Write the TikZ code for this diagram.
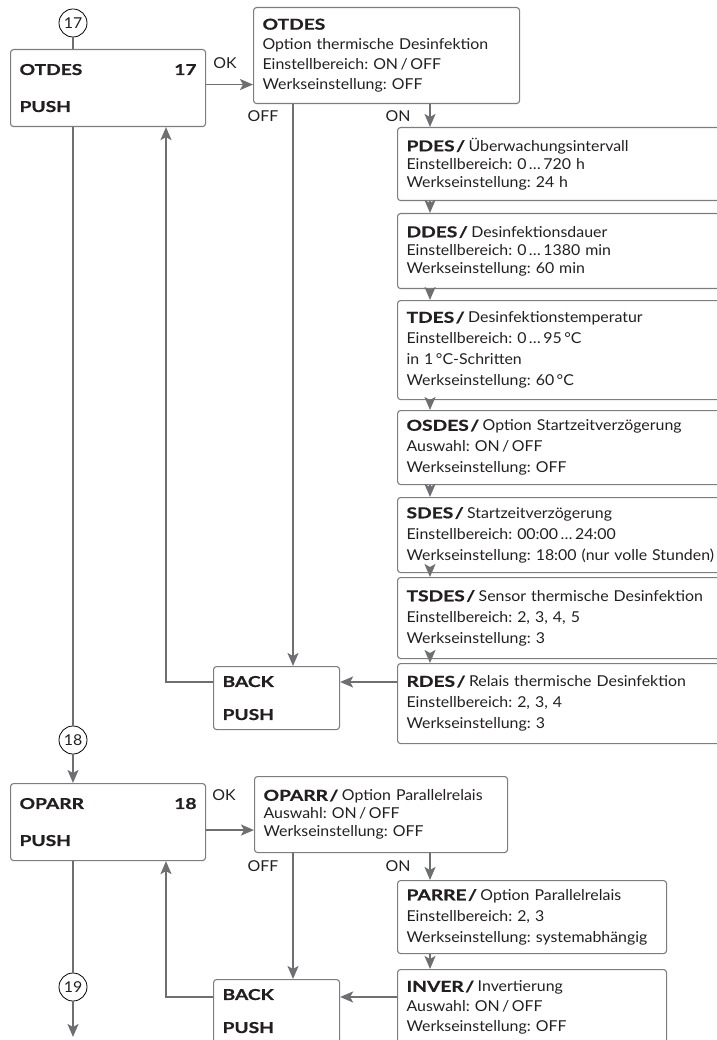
\documentclass[tikz,border=0pt]{standalone}
\usepackage{fontspec}
\setmainfont{Lato}[FakeStretch=1.06, BoldFeatures={FakeStretch=1.28, FakeBold=0.8}]
\usepackage{tikz}
\usetikzlibrary{arrows.meta,calc,positioning}
\definecolor{linegray}{RGB}{110,111,114}
\definecolor{boxgray}{RGB}{125,125,128}
\definecolor{textblack}{RGB}{35,31,32}
\frenchspacing
\newcommand{\parname}[1]{\textbf{#1\kern1.5pt/}\kern3.5pt}

\begin{document}
\begin{tikzpicture}[x=1pt, y=-1pt,
    every node/.style={font=\fontsize{15}{21}\selectfont, text=textblack},
    tight/.style={font=\fontsize{15}{18}\selectfont},
    menubox/.style={draw=boxgray, line width=1.1pt, rounded corners=3pt, anchor=north west,
                    minimum width=195pt, minimum height=77pt, text width=177pt, inner xsep=9pt, align=left},
    infobox/.style={draw=boxgray, line width=1.1pt, rounded corners=3pt, anchor=north west,
                    inner xsep=9pt, inner ysep=0pt, align=left},
    backbox/.style={draw=boxgray, line width=1.1pt, rounded corners=3pt, anchor=north west,
                    minimum width=126pt, minimum height=63pt, text width=108pt, inner xsep=9pt, align=left},
    stepnum/.style={draw=black, circle, line width=0.8pt, minimum size=28pt, inner sep=0pt},
    conn/.style={draw=linegray, line width=1.8pt},
    arr/.style={conn, -{Stealth[length=13pt,width=11pt,inset=3pt]}}]
                \useasboundingbox (0,0) rectangle (716,1040);
                % menu 17
                \node[stepnum] (c17) at (73,23) {17};
                \node[menubox] (m17) at (10,49) {\textbf{OTDES}\hskip0pt plus1filll\textbf{17}\\[16pt]\textbf{PUSH}};
                \node[infobox, font=\fontsize{15}{20}\selectfont, text width=248pt, minimum height=96pt] (d17) at (253,7)
                    {\textbf{OTDES}\\Option thermische Desinfektion\\Einstellbereich: ON\,/\,OFF\\Werkseinstellung: OFF};
                \node (ok17) at (225,63) {OK};
                \node (off17) at (263,116) {OFF};
                \node (on17) at (398,116) {ON};
                \node[infobox, tight, text width=320pt, minimum height=73pt] (pdes) at (397,127)
                    {\parname{PDES}Überwachungsintervall\\Einstellbereich: 0\,…\,720 h\\Werkseinstellung: 24 h};
                \node[infobox, tight, text width=320pt, minimum height=75pt] (ddes) at (397,213)
                    {\parname{DDES}Desinfektionsdauer\\Einstellbereich: 0\,…\,1380 min\\Werkseinstellung: 60 min};
                \node[infobox, text width=320pt, minimum height=99pt] (tdes) at (397,300)
                    {\parname{TDES}Desinfektionstemperatur\\Einstellbereich: 0\,…\,95\,°C\\in 1\,°C-Schritten\\Werkseinstellung: 60\,°C};
                \node[infobox, text width=320pt, minimum height=74pt] (osdes) at (397,410)
                    {\parname{OSDES}Option Startzeitverzögerung\\Auswahl: ON\,/\,OFF\\Werkseinstellung: OFF};
                \node[infobox, text width=320pt, minimum height=75pt] (sdes) at (397,497)
                    {\parname{SDES}Startzeitverzögerung\\Einstellbereich: 00:00\,…\,24:00\\Werkseinstellung: 18:00 (nur volle Stunden)};
                \node[infobox, text width=320pt, minimum height=81pt] (tsdes) at (397,577)
                    {\parname{TSDES}Sensor thermische Desinfektion\\Einstellbereich: 2, 3, 4, 5\\Werkseinstellung: 3};
                \node[infobox, text width=320pt, minimum height=80pt] (rdes) at (397,663)
                    {\parname{RDES}Relais thermische Desinfektion\\Einstellbereich: 2, 3, 4\\Werkseinstellung: 3};
                \node[backbox] (b17) at (213,666) {\textbf{BACK}\\[12pt]\textbf{PUSH}};
                % menu 18
                \node[stepnum] (c18) at (73,740) {18};
                \node[menubox] (m18) at (10,783) {\textbf{OPARR}\hskip0pt plus1filll\textbf{18}\\[16pt]\textbf{PUSH}};
                \node[infobox, tight, text width=235pt, minimum height=76pt] (d18) at (254,776)
                    {\parname{OPARR}Option Parallelrelais\\Auswahl: ON\,/\,OFF\\Werkseinstellung: OFF};
                \node (ok18) at (224,795) {OK};
                \node (off18) at (263,866) {OFF};
                \node (on18) at (398,866) {ON};
                \node[infobox, text width=251pt, minimum height=73pt] (parre) at (397,880)
                    {\parname{PARRE}Option Parallelrelais\\Einstellbereich: 2, 3\\Werkseinstellung: systemabhängig};
                \node[infobox, font=\fontsize{15}{20}\selectfont, text width=251pt, minimum height=76pt] (inver) at (397,969)
                    {\parname{INVER}Invertierung\\Auswahl: ON\,/\,OFF\\Werkseinstellung: OFF};
                \node[backbox] (b18) at (213,979) {\textbf{BACK}\\[12pt]\textbf{PUSH}};
                \node[stepnum] (c19) at (73,987) {19};
                \coordinate (end19) at (73,1037);
                % connectors 17
                \draw[conn] (c17.south) -- (c17.south |- m17.north);
                \draw[arr] ([yshift=3.5pt]m17.east) -- ([yshift=3.5pt]m17.east -| d17.west);
                \draw[arr] (d17.south -| 293,0) -- (b17.north -| 293,0);
                \draw[arr] (d17.south -| 430,0) -- (pdes.north -| 430,0);
                \foreach \a/\b in {pdes/ddes, ddes/tdes, tdes/osdes, osdes/sdes, sdes/tsdes, tsdes/rdes}
                    \draw[arr] (\a.south -| 430,0) -- (\b.north -| 430,0);
                \draw[arr] (rdes.west |- 0,682) -- (b17.east |- 0,682);
                \draw[arr] (b17.west |- 0,682) -| (m17.south -| 166,0);
                \draw[conn] (m17.south -| c18) -- (c18.north);
                \draw[arr] (c18.south) -- (c18.south |- m18.north);
                % connectors 18
                \draw[arr] ([yshift=-8pt]m18.east) -- ([yshift=-8pt]m18.east -| d18.west);
                \draw[arr] (d18.south -| 293,0) -- (b18.north -| 293,0);
                \draw[arr] (d18.south -| 430,0) -- (parre.north -| 430,0);
                \draw[arr] (parre.south -| 430,0) -- (inver.north -| 430,0);
                \draw[arr] (inver.west |- 0,997) -- (b18.east |- 0,997);
                \draw[arr] (b18.west |- 0,997) -| (m18.south -| 166,0);
                \draw[conn] (m18.south -| c19) -- (c19.north);
                \draw[arr] (c19.south) -- (end19);
\end{tikzpicture}
\end{document}
